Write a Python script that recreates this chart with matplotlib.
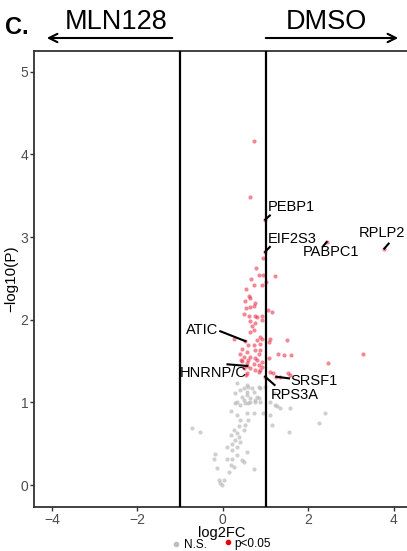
import numpy as np
import matplotlib
matplotlib.use("Agg")
import matplotlib.pyplot as plt
from matplotlib.patches import FancyArrowPatch
from matplotlib.lines import Line2D

plt.rcParams['font.family'] = ['Liberation Sans', 'DejaVu Sans']

# significant proteins (p<0.05): log2FC, -log10(P)
sig_fc = [0.72, 0.63, 0.99, 0.99, 0.95, 0.78, 2.43, 3.78, 0.85, 0.95,
          1.23, 0.65, 1.02, 0.74, 0.92, 0.54, 0.61, 0.64, 0.53, 0.76,
          0.72, 0.64, 0.55, 1.06, 1.14, 0.50, 0.61, 0.76, 0.92, 0.80,
          0.64, 0.76, 0.92, 0.68, 0.74, 0.64, 0.88, 0.92, 0.80, 1.11,
          0.53, 0.60, 0.72, 0.86, 0.45, 0.76, 0.57, 0.88, 0.41, 0.84,
          0.49, 0.64, 0.76, 0.60, 0.80, 0.45, 0.92, 0.57, 0.72, 0.84,
          0.92, 0.49, 0.64, 0.76, 0.88, 0.57, 0.84, 0.57, 1.50, 1.07,
          1.30, 1.42, 1.59, 1.07, 2.46, 3.29, 1.11, 1.17, 1.52, 1.56,
          1.25, 0.99, 1.34, 0.25, 0.42, 0.55]
sig_p = [4.16, 3.48, 3.21, 2.82, 2.74, 2.62, 2.94, 2.86, 2.54, 2.54,
         2.53, 2.49, 2.45, 2.42, 2.42, 2.37, 2.29, 2.26, 2.22, 2.20,
         2.17, 2.15, 2.14, 2.12, 2.09, 2.07, 2.04, 2.05, 2.05, 2.03,
         1.98, 1.96, 1.99, 1.92, 1.88, 1.85, 1.79, 1.77, 1.75, 1.77,
         1.74, 1.69, 1.69, 1.70, 1.65, 1.63, 1.61, 1.63, 1.59, 1.59,
         1.55, 1.55, 1.54, 1.51, 1.51, 1.50, 1.49, 1.47, 1.46, 1.45,
         1.43, 1.41, 1.41, 1.39, 1.39, 1.35, 1.37, 1.44, 1.75, 1.73,
         1.58, 1.57, 1.57, 1.54, 1.48, 1.58, 1.37, 1.36, 1.35, 1.33,
         1.31, 1.31, 1.31, 1.77, 1.51, 1.33]

# not significant
ns_fc = [0.32, 0.49, 0.60, 0.57, 0.72, 0.88, 0.99, 0.80, 0.64, 0.45,
         0.29, 0.41, 0.53, 0.64, 0.76, 0.88, 1.11, 1.23, 1.34, 1.58,
         2.38, 0.18, 0.33, 0.57, 0.72, 0.95, 1.11, 0.41, 0.60, 0.53,
         1.15, 2.26, -0.72, -0.53, 0.37, 0.25, 0.49, 0.33, 0.18, 0.37,
         1.54, 0.29, 0.41, 0.21, 0.10, 0.33, 0.21, 0.57, -0.18, 0.33,
         0.10, 0.21, -0.21, 0.49, 0.45, 0.18, 0.25, -0.14, 0.72, 0.14,
         -0.10, 0.02, -0.06, -0.02, 0.57, 0.41, 0.68, 0.84, 0.29, 0.57,
         0.49, 0.76, 0.33, 0.60, 0.84, 1.19, 1.27]
ns_p = [1.24, 1.17, 1.19, 1.13, 1.13, 1.17, 1.19, 1.07, 1.05, 1.07,
        0.99, 0.97, 0.99, 1.01, 1.01, 1.01, 1.01, 0.97, 0.93, 0.93,
        0.87, 0.89, 0.85, 0.87, 0.87, 0.87, 0.85, 0.79, 0.79, 0.73,
        0.73, 0.75, 0.69, 0.64, 0.71, 0.67, 0.67, 0.63, 0.60, 0.58,
        0.64, 0.54, 0.52, 0.50, 0.46, 0.46, 0.42, 0.40, 0.38, 0.36,
        0.32, 0.32, 0.31, 0.28, 0.30, 0.24, 0.22, 0.20, 0.19, 0.16,
        0.06, 0.06, 0.02, 0.00, 1.21, 1.15, 1.17, 1.19, 1.11, 1.09,
        1.03, 1.03, 1.01, 0.99, 1.05, 1.11, 0.95]

# labelled proteins: name, point, label anchor, segment start
lab_names = ["PEBP1", "EIF2S3", "PABPC1", "RPLP2", "ATIC", "HNRNP/C", "SRSF1", "RPS3A"]
lab_fc = [0.99, 0.99, 2.43, 3.78, 0.53, 0.57, 1.25, 0.99]
lab_p = [3.21, 2.82, 2.94, 2.86, 1.74, 1.44, 1.31, 1.31]
lab_tx = [1.04, 1.04, 1.86, 3.17, -0.11, -0.22, 1.58, 1.11]
lab_ty = [3.36, 2.98, 2.82, 3.05, 1.88, 1.35, 1.26, 1.09]
lab_sx = [1.10, 1.10, 2.35, 3.88, -0.06, 0.11, 1.55, 1.21]
lab_sy = [3.26, 2.88, 2.89, 2.92, 1.86, 1.46, 1.29, 1.21]
lab_ha = ["left", "left", "left", "left", "right", "center", "left", "left"]

W, H = 407, 551
fig = plt.figure(figsize=(W / 100, H / 100), dpi=100)
ax = fig.add_axes([34 / W, 1 - 507 / H, 1 - 34 / W, 456 / H])

ax.scatter(ns_fc, ns_p, s=9, color='#b0b0b0', alpha=0.6, linewidths=0, zorder=2)
ax.scatter(sig_fc, sig_p, s=9, color='#e8112d', alpha=0.5, linewidths=0, zorder=2)

ax.axvline(-1, color='black', lw=1.6, zorder=3)
ax.axvline(1, color='black', lw=1.6, zorder=3)

for name, px, py, tx, ty, sx, sy, ha in zip(lab_names, lab_fc, lab_p, lab_tx, lab_ty,
                                           lab_sx, lab_sy, lab_ha):
    ax.plot([sx, px], [sy, py], color='black', lw=1.5, zorder=4)
    ax.text(tx, ty, name, ha=ha, va='center', fontsize=10.5, zorder=5)

ax.set_xlim(-4.42, 4.31)
ax.set_ylim(-0.266, 5.25)
ax.set_xticks([-4, -2, 0, 2, 4])
ax.set_yticks([0, 1, 2, 3, 4, 5])
ax.tick_params(colors='#333333', labelcolor='#4d4d4d', labelsize=10, length=3, width=1, pad=1)
for s in ['left', 'bottom', 'top']:
    ax.spines[s].set_color('#333333')
    ax.spines[s].set_linewidth(1.3)
ax.spines['right'].set_visible(False)

ax.set_ylabel('\u2212log10(P)', fontsize=11, labelpad=2)
fig.text(222 / W, 1 - 533 / H, 'log2FC', fontsize=10.5, ha='center', va='center')

# header
fig.text(5 / W, 1 - 27 / H, 'C.', fontsize=17, fontweight='bold', va='center')
fig.text(116 / W, 1 - 22 / H, 'MLN128', fontsize=19.5, ha='center', va='center')
fig.text(326 / W, 1 - 22 / H, 'DMSO', fontsize=19.5, ha='center', va='center')
fig.add_artist(FancyArrowPatch((175 / W, 1 - 38 / H), (44 / W, 1 - 38 / H), transform=fig.transFigure,
                               arrowstyle='->,head_length=6,head_width=3', lw=1.5, color='black'))
fig.add_artist(FancyArrowPatch((263 / W, 1 - 38 / H), (401 / W, 1 - 38 / H), transform=fig.transFigure,
                               arrowstyle='->,head_length=6,head_width=3', lw=1.5, color='black'))

# legend
fig.add_artist(Line2D([176 / W], [1 - 544 / H], transform=fig.transFigure, marker='o',
                      markersize=3, color='#bdbdbd', linestyle='none'))
fig.text(184 / W, 1 - 545 / H, 'N.S.', fontsize=8.5, ha='left', va='center')
fig.add_artist(Line2D([228 / W], [1 - 542 / H], transform=fig.transFigure, marker='o',
                      markersize=3, color='#e8000b', linestyle='none'))
fig.text(234 / W, 1 - 544 / H, 'p<0.05', fontsize=8.5, ha='left', va='center')

fig.savefig('out.png', dpi=100)
